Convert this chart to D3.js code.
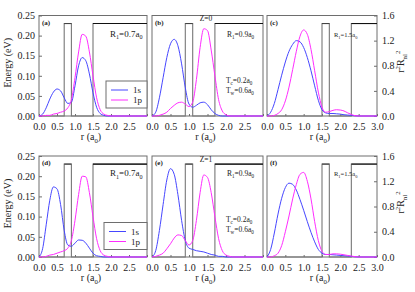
<!DOCTYPE html>
<html><head><meta charset="utf-8">
<script src="https://cdn.jsdelivr.net/npm/d3@7"></script>
<style>
body{margin:0;background:#fff}
svg{display:block}
text{font-family:"Liberation Serif","DejaVu Serif",serif;fill:#222}
</style>
</head><body>
<svg id="chart" width="415" height="292"></svg>
<script>
// ---------- data ----------
const rGrid = [0,0.1,0.2,0.3,0.4,0.5,0.6,0.7,0.8,0.9,1.0,1.1,1.2,1.3,1.4,1.5,1.6,1.7,1.8,1.9,2.0,2.1,2.2,2.3,2.4,2.5,2.6,2.7,2.8,2.9,3.0];

const s1_a = [0,0.03,0.13,0.27,0.38,0.43,0.40,0.29,0.20,0.22,0.48,0.80,0.93,0.88,0.67,0.37,0.14,0.04,0.01,0,0,0,0,0,0,0,0,0,0,0,0];
const p1_a = [0,0,0.01,0.01,0.03,0.04,0.06,0.08,0.13,0.26,0.61,1.02,1.30,1.27,1.02,0.64,0.29,0.10,0.03,0.01,0,0,0,0,0,0,0,0,0,0,0];
const s1_b = [0,0.06,0.29,0.61,0.93,1.15,1.22,1.12,0.83,0.45,0.19,0.14,0.17,0.21,0.22,0.18,0.10,0.04,0.01,0,0,0,0,0,0,0,0,0,0,0,0];
const p1_b = [0,0,0.01,0.03,0.06,0.12,0.17,0.21,0.22,0.19,0.15,0.22,0.58,1.09,1.39,1.36,1.05,0.64,0.26,0.08,0.02,0,0,0,0,0,0,0,0,0,0];
const s1_c = [0,0.06,0.20,0.42,0.65,0.86,1.03,1.14,1.20,1.18,1.09,0.93,0.72,0.48,0.25,0.10,0.05,0.04,0.04,0.035,0.03,0.02,0.015,0.01,0.003,0,0,0,0,0,0];
const p1_c = [0,0,0.01,0.04,0.10,0.24,0.46,0.74,1.03,1.27,1.37,1.30,1.06,0.72,0.38,0.14,0.06,0.07,0.09,0.10,0.095,0.08,0.05,0.025,0.005,0,0,0,0,0,0];
const s1_d = [0,0.13,0.51,0.90,1.11,1.08,0.83,0.42,0.19,0.17,0.22,0.27,0.265,0.22,0.14,0.06,0.02,0.01,0,0,0,0,0,0,0,0,0,0,0,0,0];
const p1_d = [0,0,0.01,0.03,0.04,0.06,0.08,0.10,0.14,0.26,0.58,0.99,1.28,1.27,1.02,0.64,0.29,0.10,0.03,0.01,0,0,0,0,0,0,0,0,0,0,0];
const s1_e = [0,0.10,0.42,0.83,1.22,1.40,1.31,0.99,0.58,0.26,0.14,0.12,0.10,0.09,0.08,0.06,0.04,0.03,0.01,0.01,0,0,0,0,0,0,0,0,0,0,0];
const p1_e = [0,0.01,0.03,0.06,0.13,0.21,0.30,0.35,0.34,0.26,0.19,0.26,0.58,1.02,1.30,1.26,1.02,0.64,0.29,0.10,0.03,0.01,0,0,0,0,0,0,0,0,0];
const s1_f = [0,0.12,0.38,0.68,0.93,1.10,1.17,1.15,1.06,0.91,0.74,0.56,0.39,0.24,0.12,0.06,0.04,0.04,0.035,0.03,0.025,0.02,0.015,0.01,0.003,0,0,0,0,0,0];
const p1_f = [0,0,0.02,0.06,0.18,0.40,0.65,0.92,1.15,1.31,1.34,1.20,0.92,0.56,0.26,0.09,0.04,0.04,0.05,0.05,0.045,0.035,0.025,0.015,0.005,0,0,0,0,0,0];

const panelLabels = ["(a)","(b)","(c)","(d)","(e)","(f)"];
const shellR1 = [0.7,0.9,1.5,0.7,0.9,1.5];
const coreT = 0.2, wellT = 0.6, barrierV = 0.23;
const zLabels = ["Z=0","Z=1"];
const energyTicks = [0,0.05,0.10,0.15,0.20,0.25];
const densityTicks = [0,0.4,0.8,1.2,1.6];
const rTicks = [0,0.5,1.0,1.5,2.0,2.5,3.0];
const legendLabels = ["1s","1p"];
const seriesS = [s1_a,s1_b,s1_c,s1_d,s1_e,s1_f];
const seriesP = [p1_a,p1_b,p1_c,p1_d,p1_e,p1_f];

// ---------- layout ----------
const cols = [[39,147],[152,263],[267,377]];
const rows = [[15.5,116],[156,257]];
const blue = "#4646ff", mag = "#ff2cff", frameCol = "#6e6e6e";
const rSize = [9,7.5,6.5];

const svg = d3.select("#chart");

function richText(g, x, y, parts, size, anchor){
  const t = g.append("text").attr("x",x).attr("y",y).attr("font-size",size)
    .attr("text-anchor",anchor||"start");
  let shift = 0;
  parts.forEach(([s,k])=>{
    let target = k==="sub" ? size*0.32 : (k==="sup" ? -size*0.42 : 0);
    const ts = t.append("tspan").text(s).attr("dy", target-shift);
    if(k) ts.attr("font-size", size*0.68);
    shift = target;
  });
  return t;
}

for(let i=0;i<6;i++){
  const ci=i%3, ri=Math.floor(i/3);
  const [x0,x1]=cols[ci], [y0,y1]=rows[ri];
  const x = d3.scaleLinear().domain([0,3]).range([x0,x1]);
  const yE = d3.scaleLinear().domain([0,0.25]).range([y1,y0]);
  const yD = d3.scaleLinear().domain([0,1.6]).range([y1,y0]);
  const g = svg.append("g");

  // frame
  g.append("rect").attr("x",x0).attr("y",y0).attr("width",x1-x0).attr("height",y1-y0)
    .attr("fill","none").attr("stroke",frameCol).attr("stroke-width",1);

  // x axis
  const xa = g.append("g").attr("transform",`translate(0,${y1})`)
    .call(d3.axisBottom(x).tickValues(rTicks).tickSize(-2).tickPadding(7)
      .tickFormat(d => (d===3 && ci<2) ? "" : d3.format(".1f")(d)));
  xa.select(".domain").remove();
  xa.selectAll("line").attr("stroke",frameCol);
  xa.selectAll("text").attr("font-size",10).attr("font-family","Liberation Serif").attr("fill","#222");

  richText(g, (x0+x1)/2 - 2, y1+24, [["r (a",""],["0","sub"],[")",""]], 10, "middle");

  if(ci===0){
    const ya = g.append("g").attr("transform",`translate(${x0},0)`)
      .call(d3.axisLeft(yE).tickValues(energyTicks).tickSize(-3).tickPadding(4).tickFormat(d3.format(".2f")));
    ya.select(".domain").remove();
    ya.selectAll("line").attr("stroke",frameCol);
    ya.selectAll("text").attr("font-size",10).attr("font-family","Liberation Serif").attr("fill","#222");
    g.append("text").attr("transform",`translate(11,${(y0+y1)/2-3}) rotate(-90)`)
      .attr("text-anchor","middle").attr("font-size",10).text("Energy (eV)");
  }
  if(ci===2){
    const ya = g.append("g").attr("transform",`translate(${x1},0)`)
      .call(d3.axisRight(yD).tickValues(densityTicks).tickSize(-3).tickPadding(5).tickFormat(d3.format(".1f")));
    ya.select(".domain").remove();
    ya.selectAll("line").attr("stroke",frameCol);
    ya.selectAll("text").attr("font-size",10).attr("font-family","Liberation Serif").attr("fill","#222");
    const tg = g.append("g").attr("transform",`translate(404,${(y0+y1)/2-4}) rotate(-90)`);
    richText(tg, 0, 0, [["r",""],["2","sup"],["R",""],["nl","sub"],["2","sup"]], 10, "middle");
  }

  // potential profile
  const R = shellR1[i];
  const pot = [[0,0],[R,0],[R,barrierV],[R+coreT,barrierV],[R+coreT,0],[R+coreT+wellT,0],[R+coreT+wellT,barrierV],[3,barrierV]];
  g.append("path").attr("d", d3.line().x(d=>x(d[0])).y(d=>yE(d[1]))(pot))
    .attr("fill","none").attr("stroke","#777").attr("stroke-width",1.1);
  g.append("path").attr("d", d3.line().x(d=>x(d[0])).y(d=>yE(d[1]))([[R+coreT+wellT,barrierV],[3,barrierV]]))
    .attr("fill","none").attr("stroke","#111").attr("stroke-width",1.1);
  g.append("path").attr("d", d3.line().x(d=>x(d[0])).y(d=>yE(d[1]))([[R,barrierV],[R+coreT,barrierV]]))
    .attr("fill","none").attr("stroke","#444").attr("stroke-width",1.1);

  // curves
  const line = d3.line().x((d,k)=>x(rGrid[k])).y(d=>yD(d)).curve(d3.curveMonotoneX);
  g.append("path").attr("d", line(seriesS[i])).attr("fill","none").attr("stroke",blue).attr("stroke-width",1);
  g.append("path").attr("d", line(seriesP[i])).attr("fill","none").attr("stroke",mag).attr("stroke-width",1);

  // labels
  g.append("text").attr("x",x0+3).attr("y",y0+9).attr("font-size",7).attr("font-weight","bold").text(panelLabels[i]);
  const rs = rSize[ci];
  const rx = ci===0 ? x1-37 : (ci===1 ? x1-36 : x1-43);
  richText(g, rx, y0+(ri===0?21:20), [["R",""],["1","sub"],["="+R.toFixed(1)+"a",""],["0","sub"]], rs);

  if(ci===1){
    g.append("text").attr("x",206).attr("y",y0+5.5).attr("font-size",7.5).attr("text-anchor","middle").text(zLabels[ri]);
    richText(g, x1-37, y0+(ri===0?67:66), [["T",""],["c","sub"],["="+coreT.toFixed(1)+"a",""],["0","sub"]], 7.5);
    richText(g, x1-37, y0+(ri===0?77:76), [["T",""],["w","sub"],["="+wellT.toFixed(1)+"a",""],["0","sub"]], 7.5);
  }

  // legend
  if(ci===0){
    const ly = ri===0 ? 81 : 222.5;
    const lx = ri===0 ? 106 : 104;
    const lg = g.append("g");
    lg.append("rect").attr("x",lx).attr("y",ly).attr("width",x1-lx).attr("height",27)
      .attr("fill","#fff").attr("stroke",frameCol).attr("stroke-width",1);
    [blue,mag].forEach((c,k)=>{
      const yy = ly + 9 + k*10;
      lg.append("line").attr("x1",lx+5).attr("x2",lx+22).attr("y1",yy).attr("y2",yy).attr("stroke",c).attr("stroke-width",1);
      lg.append("text").attr("x",lx+27).attr("y",yy+3).attr("font-size",9).text(legendLabels[k]);
    });
  }
}
</script>
</body></html>
